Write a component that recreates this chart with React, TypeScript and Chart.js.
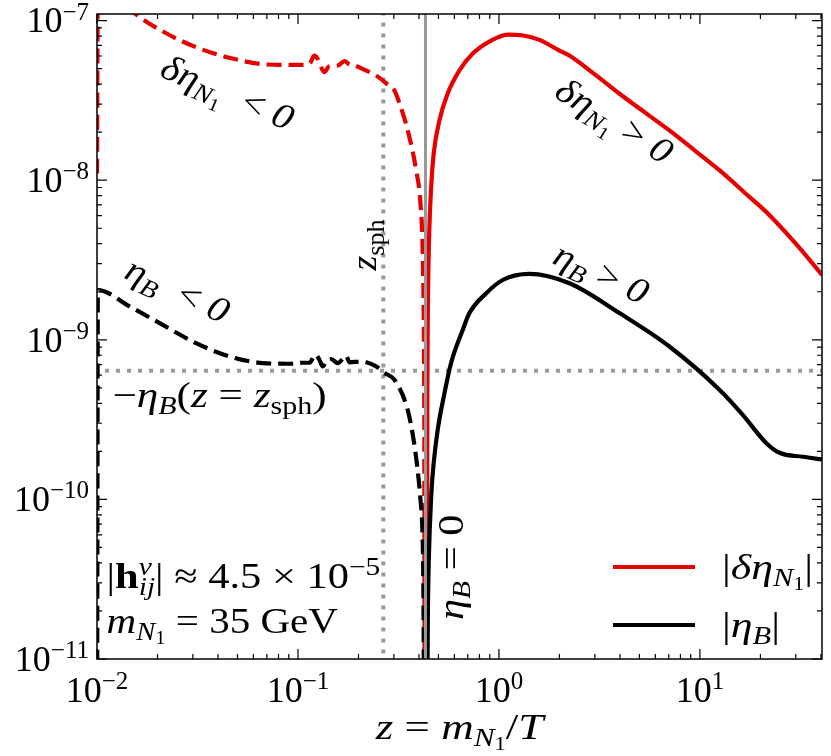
import React, { useEffect, useRef } from 'react';
import { Chart, registerables } from 'chart.js';

Chart.register(...registerables);

// |delta eta_N1| where delta eta_N1 > 0 (solid red)
const zRedPos = [0.4392, 0.4396, 0.4405, 0.4423, 0.4473, 0.4599, 0.4737, 0.5058, 0.5564, 0.636, 0.7407, 0.9146, 1.106, 1.3, 1.59, 2.0, 2.24, 3.0, 3.98, 5.3, 7.05, 9.4, 12.5, 16.7, 22.2, 30, 40.5];
const vRedPos = [5e-12, 1.2e-10, 5e-10, 1.3e-9, 3.5e-9, 9.04e-9, 1.475e-8, 2.37e-8, 3.5e-8, 4.87e-8, 6.22e-8, 7.5e-8, 8.17e-8, 8.1e-8, 7.57e-8, 6.49e-8, 6.04e-8, 4.6e-8, 3.48e-8, 2.67e-8, 2.05e-8, 1.54e-8, 1.155e-8, 8.35e-9, 6.04e-9, 4.0e-9, 2.55e-9];

// |delta eta_N1| where delta eta_N1 < 0 (dashed red)
const zRedNeg = [0.01, 0.0101, 0.0125, 0.0157, 0.0222, 0.0324, 0.0472, 0.0697, 0.0907, 0.1053, 0.1141, 0.1208, 0.125, 0.1304, 0.1354, 0.1423, 0.1578, 0.1703, 0.1804, 0.191, 0.2184, 0.2448, 0.2747, 0.302, 0.3199, 0.3518, 0.3873, 0.4068, 0.4176, 0.4224, 0.4245, 0.4256, 0.4262];
const vRedNeg = [1.1e-8, 1.6e-7, 1.4e-7, 1.09e-7, 8.3e-8, 6.68e-8, 5.79e-8, 5.31e-8, 5.28e-8, 5.28e-8, 5.36e-8, 6.04e-8, 5.79e-8, 5.1e-8, 4.75e-8, 5.16e-8, 5.23e-8, 5.57e-8, 5.31e-8, 5.23e-8, 4.87e-8, 4.53e-8, 4.05e-8, 3.65e-8, 3.03e-8, 2.05e-8, 1.155e-8, 7.18e-9, 3.5e-9, 1.33e-9, 5e-10, 1.5e-10, 3e-12];

// |eta_B| where eta_B > 0 (solid black)
const zBlackPos = [0.4405, 0.443, 0.4473, 0.4599, 0.4737, 0.496, 0.5314, 0.5783, 0.6607, 0.7131, 0.865, 1.044, 1.418, 2.243, 3.977, 7.05, 12.5, 16.3, 21.35, 24.9, 32.5, 40.5];
const vBlackPos = [8e-12, 2e-11, 4.04e-11, 1.04e-10, 1.7e-10, 2.74e-10, 4.4e-10, 7.18e-10, 1.155e-9, 1.47e-9, 1.96e-9, 2.37e-9, 2.59e-9, 2.26e-9, 1.47e-9, 9.08e-10, 4.87e-10, 3.4e-10, 2.26e-10, 1.96e-10, 1.85e-10, 1.78e-10];

// |eta_B| where eta_B < 0 (dashed black)
const zBlackNeg = [0.01, 0.0101, 0.01452, 0.02125, 0.0311, 0.0456, 0.0668, 0.0907, 0.1053, 0.1141, 0.1222, 0.1278, 0.1328, 0.1381, 0.1463, 0.1578, 0.1737, 0.1804, 0.2062, 0.2449, 0.2693, 0.302, 0.3494, 0.3725, 0.3918, 0.4068, 0.4162, 0.421, 0.4235];
const vBlackNeg = [1e-12, 2.05e-9, 1.62e-9, 1.24e-9, 9.53e-10, 7.87e-10, 7.15e-10, 7.08e-10, 7.18e-10, 7.18e-10, 8.06e-10, 7.5e-10, 6.81e-10, 7.31e-10, 7.57e-10, 7.15e-10, 7.94e-10, 7.22e-10, 7.31e-10, 6.81e-10, 6.19e-10, 5.62e-10, 3.74e-10, 2.55e-10, 1.62e-10, 1e-10, 6.2e-11, 2.5e-11, 5e-12];

// reference lines
const zSph = 0.266;
const zZero = 0.431;
const etaBSph = 6.4e-10;

// axes
const xRange = [0.01, 40.5];
const yRange = [1e-11, 1.1e-7];
const xDecades = [0.01, 0.1, 1, 10];
const xDecadeExp = ['−2', '−1', '0', '1'];
const yDecades = [1e-11, 1e-10, 1e-9, 1e-8, 1e-7];
const yDecadeExp = ['−11', '−10', '−9', '−8', '−7'];

const RED = '#e60000';
const GRAY = '#999999';
const FS = 36;
const FAMILY = '"Liberation Serif", "Times New Roman", serif';

type Run = { t: string; f?: 'i' | 'r' | 'b'; p?: 'sup' | 'sub' | 'ss'; stay?: boolean };

// text labels in data coordinates; sx widens the Times-like glyphs towards the TeX look
const labels: { z: number; v: number; angle: number; align: 'left' | 'center'; sx: number; runs: Run[] }[] = [
  { z: 0.0446, v: 3.55e-8, angle: 23, align: 'center', sx: 1.12, runs: [{ t: 'δη', f: 'i' }, { t: 'N', f: 'i', p: 'sub' }, { t: '1', p: 'ss' }, { t: '  < ' }, { t: '0', f: 'i' }] },
  { z: 0.0252, v: 2.05e-9, angle: 25, align: 'center', sx: 1.12, runs: [{ t: 'η', f: 'i' }, { t: 'B', f: 'i', p: 'sub' }, { t: '  < ' }, { t: '0', f: 'i' }] },
  { z: 3.755, v: 2.37e-8, angle: 32, align: 'center', sx: 1.12, runs: [{ t: 'δη', f: 'i' }, { t: 'N', f: 'i', p: 'sub' }, { t: '1', p: 'ss' }, { t: ' > ' }, { t: '0', f: 'i' }] },
  { z: 3.236, v: 2.62e-9, angle: 25, align: 'center', sx: 1.12, runs: [{ t: 'η', f: 'i' }, { t: 'B', f: 'i', p: 'sub' }, { t: ' > ' }, { t: '0', f: 'i' }] },
  { z: 0.2145, v: 3.93e-9, angle: -90, align: 'center', sx: 1.05, runs: [{ t: 'z', f: 'i' }, { t: 'sph', p: 'sub' }] },
  { z: 0.58, v: 3.76e-11, angle: -90, align: 'center', sx: 1.18, runs: [{ t: 'η', f: 'i' }, { t: 'B', f: 'i', p: 'sub' }, { t: ' = 0' }] },
  { z: 0.01194, v: 4.53e-10, angle: 0, align: 'left', sx: 1.2, runs: [{ t: '−' }, { t: 'η', f: 'i' }, { t: 'B', f: 'i', p: 'sub' }, { t: '(' }, { t: 'z', f: 'i' }, { t: ' = ' }, { t: 'z', f: 'i' }, { t: 'sph', p: 'sub' }, { t: ')' }] },
  { z: 0.01116, v: 3.3e-11, angle: 0, align: 'left', sx: 1.18, runs: [{ t: '|' }, { t: 'h', f: 'b' }, { t: 'ν', f: 'i', p: 'sup', stay: true }, { t: 'ij', f: 'i', p: 'sub' }, { t: '| ≈ 4.5 × 10' }, { t: '−5', p: 'sup' }] },
  { z: 0.01116, v: 1.73e-11, angle: 0, align: 'left', sx: 1.14, runs: [{ t: 'm', f: 'i' }, { t: 'N', f: 'i', p: 'sub' }, { t: '1', p: 'ss' }, { t: ' = 35 GeV' }] },
];

const legendRows: { color: string; runs: Run[] }[] = [
  { color: RED, runs: [{ t: '|' }, { t: 'δη', f: 'i' }, { t: 'N', f: 'i', p: 'sub' }, { t: '1', p: 'ss' }, { t: '|' }] },
  { color: '#000', runs: [{ t: '|' }, { t: 'η', f: 'i' }, { t: 'B', f: 'i', p: 'sub' }, { t: '|' }] },
];

const axisTitle: Run[] = [{ t: 'z', f: 'i' }, { t: ' = ' }, { t: 'm', f: 'i' }, { t: 'N', f: 'i', p: 'sub' }, { t: '1', p: 'ss' }, { t: '/' }, { t: 'T', f: 'i' }];

function runFont(r: Run, s: number) {
  const k = r.p === 'sup' || r.p === 'sub' ? 0.7 : r.p === 'ss' ? 0.5 : 1;
  const style = r.f === 'i' ? 'italic ' : r.f === 'b' ? 'bold ' : '';
  const dy = r.p === 'sup' ? -0.36 * s : r.p === 'sub' ? 0.2 * s : r.p === 'ss' ? 0.3 * s : 0;
  return { font: `${style}${Math.round(s * k)}px ${FAMILY}`, dy };
}

function runsWidth(ctx: CanvasRenderingContext2D, runs: Run[], s: number) {
  let w = 0;
  let hold = 0;
  for (const r of runs) {
    ctx.font = runFont(r, s).font;
    const rw = ctx.measureText(r.t).width;
    if (r.stay) hold = rw;
    else {
      w += Math.max(rw, hold);
      hold = 0;
    }
  }
  return w;
}

// y is the visual middle of the base text
function drawRuns(ctx: CanvasRenderingContext2D, runs: Run[], x: number, y: number, align: 'left' | 'center' | 'right', angle = 0, sx = 1, s = FS) {
  ctx.save();
  ctx.translate(x, y);
  ctx.rotate((angle * Math.PI) / 180);
  ctx.scale(sx, 1);
  const w = runsWidth(ctx, runs, s);
  let cx = align === 'left' ? 0 : align === 'center' ? -w / 2 : -w;
  ctx.textAlign = 'left';
  ctx.textBaseline = 'alphabetic';
  ctx.fillStyle = '#000';
  let hold = 0;
  for (const r of runs) {
    const { font, dy } = runFont(r, s);
    ctx.font = font;
    ctx.fillText(r.t, cx, dy + 0.33 * s);
    const rw = ctx.measureText(r.t).width;
    if (r.stay) hold = rw;
    else {
      cx += Math.max(rw, hold);
      hold = 0;
    }
  }
  ctx.restore();
}

const framePlugin = {
  id: 'frame',
  afterDatasetsDraw(chart: Chart) {
    const { ctx, chartArea: a } = chart;
    const xs = chart.scales.x;
    const ys = chart.scales.y;
    ctx.save();

    // ticks, inward on all four sides
    ctx.strokeStyle = '#000';
    ctx.lineWidth = 1.2;
    ctx.beginPath();
    for (let e = -3; e <= 2; e++) {
      for (let m = 1; m <= 9; m++) {
        const v = m * Math.pow(10, e);
        if (v < xRange[0] || v > xRange[1]) continue;
        const px = xs.getPixelForValue(v);
        const len = m === 1 ? 10 : 5;
        ctx.moveTo(px, a.bottom);
        ctx.lineTo(px, a.bottom - len);
        ctx.moveTo(px, a.top);
        ctx.lineTo(px, a.top + len);
      }
    }
    for (let e = -12; e <= -6; e++) {
      for (let m = 1; m <= 9; m++) {
        const v = m * Math.pow(10, e);
        if (v < yRange[0] * 0.999 || v > yRange[1]) continue;
        const py = ys.getPixelForValue(v);
        const len = m === 1 ? 10 : 5;
        ctx.moveTo(a.left, py);
        ctx.lineTo(a.left + len, py);
        ctx.moveTo(a.right, py);
        ctx.lineTo(a.right - len, py);
      }
    }
    ctx.stroke();

    // frame
    ctx.lineWidth = 1.5;
    ctx.strokeRect(a.left, a.top, a.right - a.left, a.bottom - a.top);

    // tick labels
    xDecades.forEach((v, i) => {
      drawRuns(ctx, [{ t: '10' }, { t: xDecadeExp[i], p: 'sup' }], xs.getPixelForValue(v), a.bottom + 31, 'center');
    });
    yDecades.forEach((v, i) => {
      drawRuns(ctx, [{ t: '10' }, { t: yDecadeExp[i], p: 'sup' }], a.left - 8, ys.getPixelForValue(v), 'right');
    });
    drawRuns(ctx, axisTitle, (a.left + a.right) / 2, a.bottom + 68, 'center', 0, 1.25);

    // annotations
    labels.forEach((l) => {
      drawRuns(ctx, l.runs, xs.getPixelForValue(l.z), ys.getPixelForValue(l.v), l.align, l.angle, l.sx);
    });

    // legend
    legendRows.forEach((row, i) => {
      const y = a.bottom - 92 + i * 58;
      ctx.strokeStyle = row.color;
      ctx.lineWidth = 4;
      ctx.setLineDash([]);
      ctx.beginPath();
      ctx.moveTo(a.right - 209, y);
      ctx.lineTo(a.right - 127, y);
      ctx.stroke();
      drawRuns(ctx, row.runs, a.right - 100, y, 'left', 0, 1.22);
    });
    ctx.restore();
  },
};

const toPoints = (zs: number[], vs: number[]) => zs.map((z, i) => ({ x: z, y: vs[i] }));

const App: React.FC = () => {
  const canvasRef = useRef<HTMLCanvasElement>(null);

  useEffect(() => {
    if (!canvasRef.current) return;
    const curve = { pointRadius: 0, borderWidth: 4.2, cubicInterpolationMode: 'monotone' as const, clip: 0 };
    const dotted = { pointRadius: 0, borderColor: GRAY, borderWidth: 4, borderDash: [4, 7], clip: 0 };
    const chart = new Chart(canvasRef.current, {
      type: 'line',
      data: {
        datasets: [
          { data: [{ x: zZero, y: 1e-12 }, { x: zZero, y: 1e-6 }], borderColor: GRAY, borderWidth: 3, pointRadius: 0, clip: 0 },
          { ...curve, data: toPoints(zBlackPos, vBlackPos), borderColor: '#000' },
          { ...curve, data: toPoints(zBlackNeg, vBlackNeg), borderColor: '#000', borderDash: [15, 7] },
          { ...curve, data: toPoints(zRedPos, vRedPos), borderColor: RED },
          { ...curve, data: toPoints(zRedNeg, vRedNeg), borderColor: RED, borderDash: [15, 7] },
          { ...dotted, data: [{ x: zSph, y: 1e-12 }, { x: zSph, y: 1e-6 }] },
          { ...dotted, data: [{ x: 1e-3, y: etaBSph }, { x: 100, y: etaBSph }] },
        ],
      },
      options: {
        animation: false,
        responsive: true,
        maintainAspectRatio: false,
        events: [],
        layout: { padding: { left: 97, right: 9, top: 14, bottom: 97 } },
        plugins: { legend: { display: false }, tooltip: { enabled: false } },
        scales: {
          x: { type: 'logarithmic', min: xRange[0], max: xRange[1], display: false },
          y: { type: 'logarithmic', min: yRange[0], max: yRange[1], display: false },
        },
      },
      plugins: [framePlugin],
    });
    return () => chart.destroy();
  }, []);

  return (
    <div style={{ position: 'fixed', left: 0, top: 0, width: 831, height: 756, background: '#fff' }}>
      <canvas ref={canvasRef} />
    </div>
  );
};

export default App;
